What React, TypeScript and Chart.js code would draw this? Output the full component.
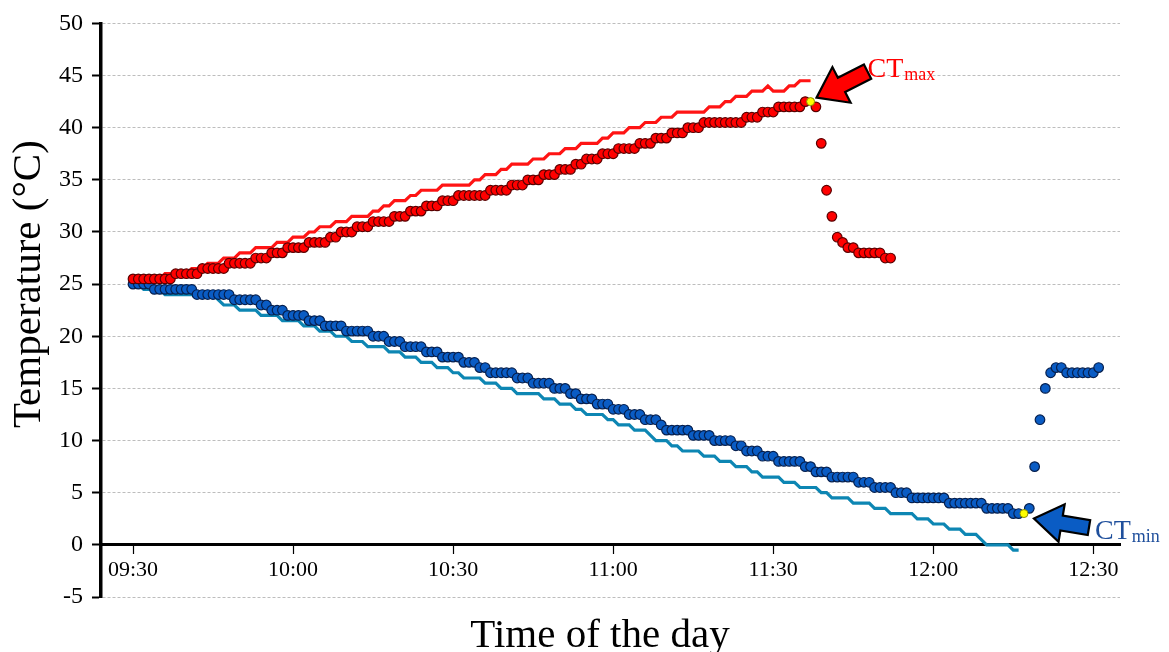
import { useEffect, useRef } from 'react';
import { Chart, registerables } from 'chart.js';

Chart.register(...registerables);

// ---------- data (minutes after 09:30, one reading per minute) ----------
const X_MIN = -6;
const X_MAX = 185;
const Y_MIN = -5;
const Y_MAX = 50;
const Y_STEP = 5;

const TICK_MINUTES = [0, 30, 60, 90, 120, 150, 180];
const TICK_LABELS = ['09:30', '10:00', '10:30', '11:00', '11:30', '12:00', '12:30'];

// [temperature, number of consecutive one-minute readings]
const RED_DOT_RUNS: [number, number][] = [
  [25.5, 8], [26, 5], [26.5, 5], [27, 5], [27.5, 3], [28, 3], [28.5, 4], [29, 4], [29.5, 2],
  [30, 3], [30.5, 3], [31, 4], [31.5, 3], [32, 3], [32.5, 3], [33, 3], [33.5, 6], [34, 4],
  [34.5, 3], [35, 3], [35.5, 3], [36, 3], [36.5, 2], [37, 3], [37.5, 3], [38, 4], [38.5, 3],
  [39, 3], [39.5, 3], [40, 3], [40.5, 8], [41, 3], [41.5, 3], [42, 5], [42.5, 2], [42, 1],
  [38.5, 1], [34, 1], [31.5, 1], [29.5, 1], [29, 1], [28.5, 2], [28, 5], [27.5, 2],
];

const BLUE_DOT_RUNS: [number, number][] = [
  [25, 4], [24.5, 8], [24, 7], [23.5, 5], [23, 2], [22.5, 3], [22, 4], [21.5, 3], [21, 4],
  [20.5, 5], [20, 3], [19.5, 3], [19, 4], [18.5, 3], [18, 4], [17.5, 3], [17, 2], [16.5, 5],
  [16, 3], [15.5, 4], [15, 3], [14.5, 2], [14, 3], [13.5, 3], [13, 3], [12.5, 3], [12, 3],
  [11.5, 1], [11, 5], [10.5, 4], [10, 4], [9.5, 2], [9, 3], [8.5, 3], [8, 5], [7.5, 2], [7, 3],
  [6.5, 5], [6, 3], [5.5, 4], [5, 3], [4.5, 7], [4, 7], [3.5, 5], [3, 3], [3.5, 1], [7.5, 1],
  [12, 1], [15, 1], [16.5, 1], [17, 2], [16.5, 6], [17, 1],
];

const RED_LINE_RUNS: [number, number][] = [
  [25.5, 6], [26, 5], [26.5, 3], [27, 3], [27.5, 3], [28, 3], [28.5, 4], [29, 3], [29.5, 3],
  [30, 2], [30.5, 3], [31, 3], [31.5, 4], [32, 2], [32.5, 2], [33, 3], [33.5, 2], [34, 4],
  [34.5, 6], [35, 2], [35.5, 3], [36, 2], [36.5, 4], [37, 3], [37.5, 3], [38, 3], [38.5, 4],
  [39, 2], [39.5, 3], [40, 3], [40.5, 3], [41, 3], [41.5, 6], [42, 3], [42.5, 2], [43, 3],
  [43.5, 3], [44, 1], [43.5, 3], [44, 2], [44.5, 3],
];

const TEAL_LINE_RUNS: [number, number][] = [
  [25, 2], [24.5, 4], [24, 10], [23.5, 1], [23, 3], [22.5, 4], [22, 4], [21.5, 4], [21, 3],
  [20.5, 3], [20, 3], [19.5, 3], [19, 4], [18.5, 3], [18, 3], [17.5, 3], [17, 3], [16.5, 2],
  [16, 4], [15.5, 3], [15, 3], [14.5, 5], [14, 3], [13.5, 3], [13, 2], [12.5, 4], [12, 2],
  [11.5, 3], [11, 3], [10.5, 1], [10, 3], [9.5, 2], [9, 4], [8.5, 3], [8, 3], [7.5, 3], [7, 2],
  [6.5, 4], [6, 3], [5.5, 4], [5, 2], [4.5, 4], [4, 4], [3.5, 3], [3, 5], [2.5, 3], [2, 3],
  [1.5, 3], [1, 3], [0.5, 1], [0, 5], [-0.5, 2],
];

const CT_MAX = { minute: 127, value: 42.5 };
const CT_MIN = { minute: 167, value: 3 };

const X_TITLE = 'Time of the day';
const Y_TITLE = 'Temperature (°C)';

// ---------- helpers ----------
const SERIF = '"Liberation Serif", "Times New Roman", serif';

function expandRuns(runs: [number, number][], start = 0) {
  const out: { x: number; y: number }[] = [];
  let t = start;
  for (const [v, n] of runs) {
    for (let k = 0; k < n; k++) out.push({ x: t++, y: v });
  }
  return out;
}

function blockArrow(
  ctx: CanvasRenderingContext2D,
  tipX: number, tipY: number, tailX: number, tailY: number,
  shaftW: number, headL: number, headW: number, fill: string,
) {
  const dx = tipX - tailX;
  const dy = tipY - tailY;
  const len = Math.hypot(dx, dy);
  const ux = dx / len, uy = dy / len;
  const px = -uy, py = ux;
  const bx = tipX - ux * headL, by = tipY - uy * headL;
  ctx.beginPath();
  ctx.moveTo(tipX, tipY);
  ctx.lineTo(bx + px * headW / 2, by + py * headW / 2);
  ctx.lineTo(bx + px * shaftW / 2, by + py * shaftW / 2);
  ctx.lineTo(tailX + px * shaftW / 2, tailY + py * shaftW / 2);
  ctx.lineTo(tailX - px * shaftW / 2, tailY - py * shaftW / 2);
  ctx.lineTo(bx - px * shaftW / 2, by - py * shaftW / 2);
  ctx.lineTo(bx - px * headW / 2, by - py * headW / 2);
  ctx.closePath();
  ctx.fillStyle = fill;
  ctx.fill();
  ctx.lineWidth = 2.2;
  ctx.lineJoin = 'miter';
  ctx.strokeStyle = '#000';
  ctx.stroke();
}

function subLabel(
  ctx: CanvasRenderingContext2D, x: number, y: number, main: string, sub: string, color: string,
) {
  ctx.fillStyle = color;
  ctx.textAlign = 'left';
  ctx.textBaseline = 'alphabetic';
  ctx.font = `28px ${SERIF}`;
  ctx.fillText(main, x, y);
  const w = ctx.measureText(main).width;
  ctx.font = `18px ${SERIF}`;
  ctx.fillText(sub, x + w + 1, y + 3);
}

const annotationPlugin = {
  id: 'ctAnnotations',
  afterDraw(chart: any) {
    const { ctx, scales, chartArea } = chart;
    const xs = scales.x;
    const ys = scales.y;
    ctx.save();
    // axis titles
    ctx.fillStyle = '#000';
    ctx.font = `41px ${SERIF}`;
    ctx.textAlign = 'center';
    ctx.textBaseline = 'alphabetic';
    ctx.fillText(X_TITLE, chartArea.left + 499, 647);
    ctx.save();
    ctx.translate(40, (ys.getPixelForValue(0) + ys.getPixelForValue(Y_MAX)) / 2);
    ctx.rotate(-Math.PI / 2);
    ctx.fillText(Y_TITLE, 0, 0);
    ctx.restore();

    // CTmax arrow + label
    const mx = xs.getPixelForValue(CT_MAX.minute);
    const my = ys.getPixelForValue(CT_MAX.value);
    blockArrow(ctx, mx + 6, my - 4, mx + 57, my - 30, 16, 28, 40, '#ff0000');
    subLabel(ctx, mx + 57, my - 25, 'CT', 'max', '#ff0000');

    // CTmin arrow + label
    const nx = xs.getPixelForValue(CT_MIN.minute);
    const ny = ys.getPixelForValue(CT_MIN.value);
    blockArrow(ctx, nx + 10, ny + 5, nx + 65, ny + 14, 15, 28, 38, '#0a5cc4');
    subLabel(ctx, nx + 71, ny + 25, 'CT', 'min', '#1f4f9c');
    ctx.restore();
  },
};

export default function App() {
  const canvasRef = useRef<HTMLCanvasElement | null>(null);

  useEffect(() => {
    document.body.style.margin = '0';
    const canvas = canvasRef.current;
    if (!canvas) return;

    const redDots = expandRuns(RED_DOT_RUNS).filter((p) => p.x !== CT_MAX.minute);
    const blueDots = expandRuns(BLUE_DOT_RUNS).filter((p) => p.x !== CT_MIN.minute);
    const redLine = expandRuns(RED_LINE_RUNS);
    const tealLine = expandRuns(TEAL_LINE_RUNS);

    const chart = new Chart(canvas, {
      type: 'scatter',
      data: {
        datasets: [
          {
            label: 'CTmax',
            data: [{ x: CT_MAX.minute, y: CT_MAX.value }],
            backgroundColor: '#ffff00',
            borderColor: '#8c8c00',
            borderWidth: 1,
            pointRadius: 4,
            order: 0,
          },
          {
            label: 'CTmin',
            data: [{ x: CT_MIN.minute, y: CT_MIN.value }],
            backgroundColor: '#ffff00',
            borderColor: '#8c8c00',
            borderWidth: 1,
            pointRadius: 4,
            order: 0,
          },
          {
            label: 'Heating',
            data: redDots,
            backgroundColor: '#ff0000',
            borderColor: '#5a0000',
            borderWidth: 1.2,
            pointRadius: 4.8,
            order: 1,
          },
          {
            label: 'Cooling',
            data: blueDots,
            backgroundColor: '#0a5cc4',
            borderColor: '#06204f',
            borderWidth: 1.2,
            pointRadius: 4.8,
            order: 1,
          },
          {
            label: 'Heating ramp',
            data: redLine,
            showLine: true,
            borderColor: '#ff1414',
            borderWidth: 3.2,
            pointRadius: 0,
            tension: 0,
            order: 2,
          },
          {
            label: 'Cooling ramp',
            data: tealLine,
            showLine: true,
            borderColor: '#0d86b3',
            borderWidth: 3.2,
            pointRadius: 0,
            tension: 0,
            order: 2,
          },
        ],
      },
      options: {
        responsive: false,
        animation: false,
        devicePixelRatio: 1,
        layout: { padding: { left: 0, top: 20, right: 49, bottom: 55 } },
        plugins: { legend: { display: false }, tooltip: { enabled: false } },
        scales: {
          x: {
            type: 'linear',
            min: X_MIN,
            max: X_MAX,
            position: { y: 0 } as any,
            afterBuildTicks: (s: any) => {
              s.ticks = TICK_MINUTES.map((v) => ({ value: v }));
            },
            ticks: {
              autoSkip: false,
              maxRotation: 0,
              padding: 4,
              color: '#000',
              font: { family: SERIF, size: 22 },
              callback: (v: any) => {
                const i = TICK_MINUTES.indexOf(Number(v));
                return i >= 0 ? TICK_LABELS[i] : '';
              },
            },
            grid: {
              drawOnChartArea: false,
              drawTicks: true,
              tickLength: 8,
              tickColor: '#000',
              tickWidth: 1.2,
            },
            border: { display: true, color: '#000', width: 3 },
          },
          y: {
            type: 'linear',
            min: Y_MIN,
            max: Y_MAX,
            afterFit: (s: any) => {
              s.width = 101;
            },
            ticks: {
              stepSize: Y_STEP,
              padding: 9,
              color: '#000',
              font: { family: SERIF, size: 24 },
            },
            grid: {
              color: '#bdbdbd',
              lineWidth: 1,
              drawTicks: true,
              tickLength: 9,
              tickColor: '#000',
              tickWidth: 2,
            },
            border: { display: true, color: '#000', width: 3.5, dash: [3, 2] },
          },
        },
      },
      plugins: [annotationPlugin],
    });

    return () => chart.destroy();
  }, []);

  return (
    <div style={{ width: 1169, height: 652 }}>
      <canvas ref={canvasRef} width={1169} height={652} />
    </div>
  );
}
